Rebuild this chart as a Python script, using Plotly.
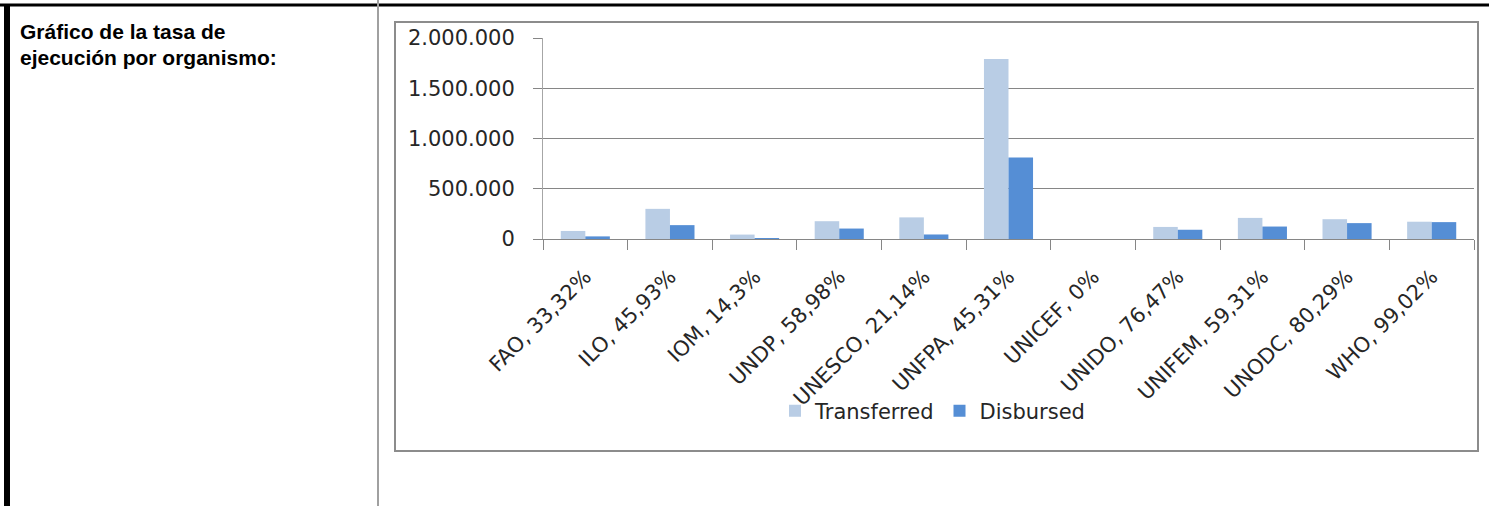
import plotly.graph_objects as go

# ---- data ----
organismos = ["FAO, 33,32%", "ILO, 45,93%", "IOM, 14,3%", "UNDP, 58,98%",
              "UNESCO, 21,14%", "UNFPA, 45,31%", "UNICEF, 0%", "UNIDO, 76,47%",
              "UNIFEM, 59,31%", "UNODC, 80,29%", "WHO, 99,02%"]
transferred = [80000, 300000, 44000, 177000, 215000, 1790000, 0, 120000, 210000, 197000, 172000]
disbursed = [26000, 138000, 6000, 104000, 45000, 811000, 0, 92000, 124000, 158000, 168000]
y_ticks = [0, 500000, 1000000, 1500000, 2000000]
titulo = ["Gráfico de la tasa de", "ejecución por organismo:"]

# ---- geometry (pixels) ----
FW, FH = 1489, 506
L, R, T, B = 543, 1474, 38, 239
W, H = R - L, B - T


def px(x):
    return (x - L) / W


def py(y):
    return (B - y) / H


fig = go.Figure()
fig.add_trace(go.Bar(name="Transferred", x=organismos, y=transferred,
                     marker=dict(color="#B9CDE5", line=dict(width=0))))
fig.add_trace(go.Bar(name="Disbursed", x=organismos, y=disbursed,
                     marker=dict(color="#558ED5", line=dict(width=0))))

tick_font = dict(family="DejaVu Sans", size=21, color="#262626")

fig.update_layout(
    width=FW, height=FH,
    margin=dict(l=L, r=FW - R, t=T, b=FH - B, pad=0),
    paper_bgcolor="white", plot_bgcolor="white",
    barmode="group", bargap=0.42, bargroupgap=0,
    separators=",.",
    showlegend=True,
    legend=dict(orientation="h", x=px(775), xanchor="left", y=py(411), yanchor="middle",
                font=tick_font, bgcolor="rgba(0,0,0,0)", traceorder="normal"),
    xaxis=dict(type="category", tickangle=-45, tickfont=tick_font,
               showline=True, linecolor="#868686", linewidth=1,
               ticks="outside", tickson="boundaries", ticklen=10, tickcolor="#868686",
               showgrid=False, zeroline=False, ticklabelstandoff=16),
    yaxis=dict(range=[0, 2000000], tickvals=y_ticks, tickformat=",d", tickfont=tick_font,
               showline=True, linecolor="#a6a6a6", linewidth=1,
               ticks="outside", ticklen=9, tickcolor="#868686",
               showgrid=True, gridcolor="#868686", gridwidth=1, zeroline=False,
               ticklabelstandoff=14),
)

shapes = [
    # top table border
    dict(type="line", x0=px(0), x1=px(FW), y0=py(5), y1=py(5), line=dict(color="black", width=3)),
    # left thick table border
    dict(type="line", x0=px(7), x1=px(7), y0=py(5), y1=py(FH), line=dict(color="black", width=6)),
    # column separator
    dict(type="line", x0=px(378), x1=px(378), y0=py(0), y1=py(FH), line=dict(color="#a0a0a0", width=2)),
    # chart frame
    dict(type="rect", x0=px(395), x1=px(1478), y0=py(22), y1=py(451),
         line=dict(color="#8c8c8c", width=2), layer="below"),
]
for s in shapes:
    s.update(xref="paper", yref="paper")
fig.update_layout(shapes=shapes)

title_font = dict(family="Liberation Sans", size=21, color="black")
for txt, yc in zip(titulo, [32, 57]):
    fig.add_annotation(text="<b>%s</b>" % txt, xref="paper", yref="paper",
                       x=px(19), y=py(yc), xanchor="left", yanchor="middle",
                       showarrow=False, font=title_font, borderpad=0)

fig.write_html("out.html", config={"displayModeBar": False},
               post_script="document.body.style.margin='0';")
